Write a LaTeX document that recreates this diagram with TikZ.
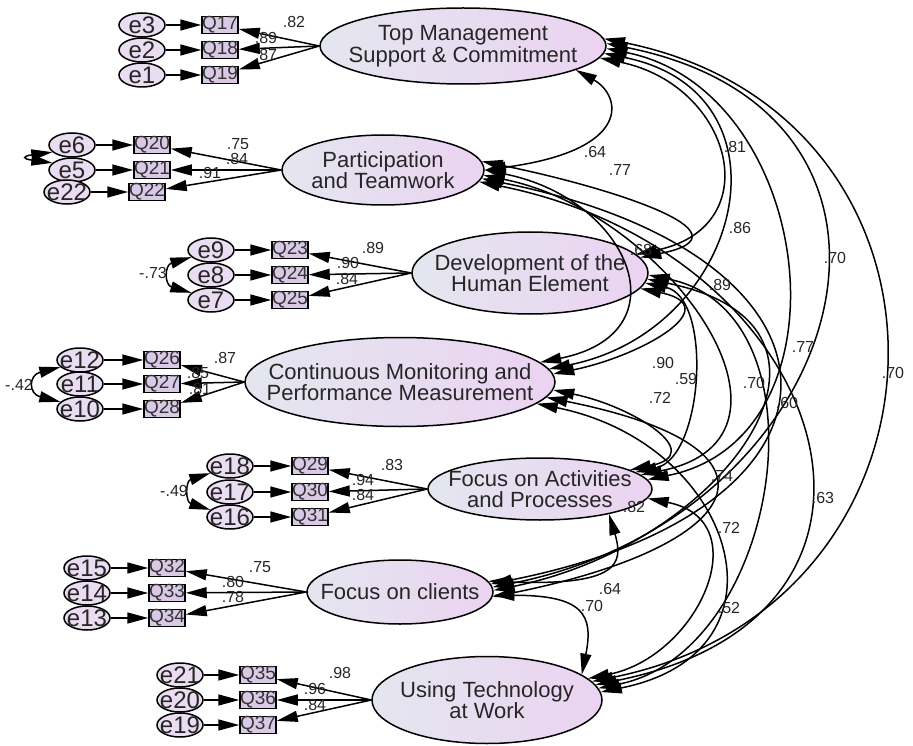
\documentclass[tikz,border=0pt]{standalone}
\usepackage{fontspec}
\setmainfont{Liberation Sans}
\usetikzlibrary{shapes.geometric,arrows.meta}
\definecolor{facleft}{HTML}{E4E6EF}
\definecolor{facright}{HTML}{EBD3F1}
\definecolor{errfill}{HTML}{EADDF1}
\definecolor{boxfill}{HTML}{D9C9E6}
\begin{document}
\begin{tikzpicture}[x=1pt,y=-1pt,
    >={Triangle[length=21pt,width=11pt]},
    factor/.style={ellipse,draw,line width=1.5pt,inner sep=0pt,left color=facleft,right color=facright},
    ftext/.style={align=center,font=\fontsize{22}{20.5}\selectfont,text=black!85},
    err/.style={ellipse,draw,line width=1.5pt,fill=errfill,minimum width=46pt,minimum height=24pt,inner sep=0pt},
    etext/.style={font=\fontsize{24}{24}\selectfont,text=black!85},
    item/.style={rectangle,draw,line width=1.5pt,fill=boxfill,minimum width=36pt,minimum height=14pt,inner sep=0pt,font=\fontsize{19}{19}\selectfont,text=black!80},
    coef/.style={font=\fontsize{16}{16}\selectfont,inner sep=1pt,text=black!85},
    load/.style={->,line width=1.5pt},
    cov/.style={<->,line width=1.5pt}]
\useasboundingbox (0,0) rectangle (913,746);

% latent factors
\node[factor,minimum width=286pt,minimum height=76pt,label={[ftext]center:{Top Management\\Support \& Commitment}}] (F1) at (463,46) {};
\node[factor,minimum width=202pt,minimum height=70pt,label={[ftext]center:{Participation\\and Teamwork}}] (F2) at (383,170) {};
\node[factor,minimum width=236pt,minimum height=82pt,label={[ftext]center:{Development of the\\Human Element}}] (F3) at (530,273) {};
\node[factor,minimum width=310pt,minimum height=89pt,label={[ftext]center:{Continuous Monitoring and\\Performance Measurement}}] (F4) at (400,382) {};
\node[factor,minimum width=224pt,minimum height=62pt,label={[ftext]center:{Focus on Activities\\and Processes}}] (F5) at (540,489) {};
\node[factor,minimum width=186pt,minimum height=64pt,label={[ftext]center:{Focus on clients}}] (F6) at (400,592) {};
\node[factor,minimum width=230pt,minimum height=87pt,label={[ftext]center:{Using Technology\\at Work}}] (F7) at (487,700) {};

% indicators and errors
\foreach \e/\q/\y in {e3/17/25,e2/18/50,e1/19/75}{
  \node[err,label={[etext]center:\e}] (\e) at (142,\y) {};
  \node[item] (Q\q) at (220,\y) {Q\q};
  \draw[load] (\e) -- (Q\q);
  \draw[load] (F1.west) -- (Q\q);
}
\foreach \e/\q/\y/\x in {e6/20/145/0,e5/21/170/0,e22/22/192/5}{
  \node[err,label={[etext]center:\e}] (\e) at (72-\x,\y) {};
  \node[item] (Q\q) at (152-\x,\y) {Q\q};
  \draw[load] (\e) -- (Q\q);
  \draw[load] (F2.west) -- (Q\q);
}
\foreach \e/\q/\y in {e9/23/250,e8/24/275,e7/25/300}{
  \node[err,label={[etext]center:\e}] (\e) at (211,\y) {};
  \node[item] (Q\q) at (290,\y) {Q\q};
  \draw[load] (\e) -- (Q\q);
  \draw[load] (F3.west) -- (Q\q);
}
\foreach \e/\q/\y in {e12/26/360,e11/27/384,e10/28/409}{
  \node[err,label={[etext]center:\e}] (\e) at (80,\y) {};
  \node[item] (Q\q) at (162,\y) {Q\q};
  \draw[load] (\e) -- (Q\q);
  \draw[load] (F4.west) -- (Q\q);
}
\foreach \e/\q/\y in {e18/29/466,e17/30/492,e16/31/517}{
  \node[err,label={[etext]center:\e}] (\e) at (230,\y) {};
  \node[item] (Q\q) at (310,\y) {Q\q};
  \draw[load] (\e) -- (Q\q);
  \draw[load] (F5.west) -- (Q\q);
}
\foreach \e/\q/\y in {e15/32/568,e14/33/593,e13/34/618}{
  \node[err,label={[etext]center:\e}] (\e) at (87,\y) {};
  \node[item] (Q\q) at (167,\y) {Q\q};
  \draw[load] (\e) -- (Q\q);
  \draw[load] (F6.west) -- (Q\q);
}
\foreach \e/\q/\y in {e21/35/675,e20/36/700,e19/37/725}{
  \node[err,label={[etext]center:\e}] (\e) at (180,\y) {};
  \node[item] (Q\q) at (258,\y) {Q\q};
  \draw[load] (\e) -- (Q\q);
  \draw[load] (F7.west) -- (Q\q);
}

% loadings
\node[coef] (l17) at (294,22) {.82};
\node[coef] (l18) at (266,38) {.89};
\node[coef] (l19) at (266,55) {.87};
\node[coef] (l20) at (238,144) {.75};
\node[coef] (l21) at (237,159) {.84};
\node[coef] (l22) at (210,173) {.91};
\node[coef] (l23) at (373,248) {.89};
\node[coef] (l24) at (348,263) {.90};
\node[coef] (l25) at (347,279) {.84};
\node[coef] (l26) at (225,358) {.87};
\node[coef] (l27) at (198,373) {.85};
\node[coef] (l28) at (200,389) {.81};
\node[coef] (l29) at (392,465) {.83};
\node[coef] (l30) at (363,480) {.94};
\node[coef] (l31) at (363,495) {.84};
\node[coef] (l32) at (260,567) {.75};
\node[coef] (l33) at (233,582) {.80};
\node[coef] (l34) at (233,597) {.78};
\node[coef] (l35) at (340,673) {.98};
\node[coef] (l36) at (315,689) {.96};
\node[coef] (l37) at (315,705) {.84};

% error covariances
\draw[cov] (e6.200) .. controls +(-30,4) and +(-30,-4) .. (e5.160);
\draw[cov] (e9.200) .. controls +(-27,8) and +(-27,-8) .. (e7.160);
\draw[cov] (e12.200) .. controls +(-32,8) and +(-32,-8) .. (e10.160);
\draw[cov] (e18.200) .. controls +(-25,8) and +(-25,-8) .. (e16.160);
\node[coef,anchor=east] (c97) at (168,273) {-.73};
\node[coef,anchor=east] (c1210) at (34,385) {-.42};
\node[coef,anchor=east] (c1816) at (189,491) {-.49};

% factor covariances
\draw[cov] (F1.-12) .. controls +(45,25) and +(150,-20) .. (F2.0);
\draw[cov] (F1.-5) .. controls +(133,27) and +(133,-27) .. (F3.10);
\draw[cov] (F1.-3) .. controls +(195,39) and +(195,-39) .. (F4.5);
\draw[cov] (F1.-1) .. controls +(209,42) and +(209,-42) .. (F5.5);
\draw[cov] (F1.1) .. controls +(357,71) and +(357,-71) .. (F6.3);
\draw[cov] (F1.3) .. controls +(380,76) and +(380,-76) .. (F7.10);
\draw[cov] (F2.5) .. controls +(120,24) and +(120,-24) .. (F3.8);
\draw[cov] (F2.0) .. controls +(145,29) and +(145,-29) .. (F4.8);
\draw[cov] (F2.-3) .. controls +(185,37) and +(185,-37) .. (F5.8);
\draw[cov] (F2.-5) .. controls +(386,77) and +(386,-77) .. (F6.5);
\draw[cov] (F2.-7) .. controls +(352,70) and +(352,-70) .. (F7.8);
\draw[cov] (F3.-8) .. controls +(88,18) and +(88,-18) .. (F4.3);
\draw[cov] (F3.-5) .. controls +(68,14) and +(68,-14) .. (F5.10);
\draw[cov] (F3.-3) .. controls +(233,47) and +(233,-47) .. (F6.1);
\draw[cov] (F3.-1) .. controls +(183,37) and +(183,-37) .. (F7.6);
\draw[cov] (F4.-3) .. controls +(79,16) and +(79,-16) .. (F5.12);
\draw[cov] (F4.-6) .. controls +(255,51) and +(255,-51) .. (F6.-3);
\draw[cov] (F4.-9) .. controls +(199,40) and +(199,-40) .. (F7.4);
\draw[cov] (F5.-20) .. controls +(15,50) and +(130,5) .. (F6.7);
\draw[cov] (F5.-5) .. controls +(111,22) and +(111,-22) .. (F7.12);
\draw[cov] (F6.-2) .. controls +(90,0) and +(12,-60) .. (F7.15);

\node[coef] (c12) at (595,152) {.64};
\node[coef] (c23) at (620,170) {.77};
\node[coef] (c13) at (735,147) {.81};
\node[coef] (c14) at (740,228) {.86};
\node[coef] (c15) at (835,258) {.70};
\node[coef] (c24) at (641,250) {.68};
\node[coef] (c25) at (720,285) {.89};
\node[coef] (c16) at (803,347) {.77};
\node[coef] (c17) at (893,373) {.70};
\node[coef] (c34) at (663,363) {.90};
\node[coef] (c35) at (686,379) {.59};
\node[coef] (c36) at (754,383) {.70};
\node[coef] (c26) at (787,403) {.60};
\node[coef] (c45) at (660,398) {.72};
\node[coef] (c37) at (722,476) {.74};
\node[coef] (c27) at (823,498) {.63};
\node[coef] (c46) at (729,528) {.72};
\node[coef] (c56) at (634,507) {.82};
\node[coef] (c57) at (610,589) {.64};
\node[coef] (c67) at (592,606) {.70};
\node[coef] (c47) at (729,608) {.52};
\end{tikzpicture}
\end{document}
